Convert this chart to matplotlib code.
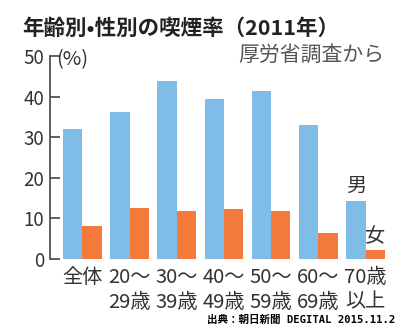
import matplotlib
matplotlib.use("Agg")
import matplotlib.pyplot as plt
import numpy as np

plt.rcParams['font.family'] = ['Noto Sans CJK JP', 'DejaVu Sans']

categories = ["全体", "20～\n29歳", "30～\n39歳", "40～\n49歳", "50～\n59歳", "60～\n69歳", "70歳\n以上"]
male = [32.1, 36.2, 43.8, 39.3, 41.3, 33.0, 14.3]
female = [8.2, 12.6, 11.9, 12.3, 11.7, 6.3, 2.1]
yticks = [0, 10, 20, 30, 40, 50]

blue = "#7fbde8"
orange = "#f47a3c"
txt = "#333333"

fig = plt.figure(figsize=(4, 3.35), dpi=100)
ax = fig.add_axes([50/400, 76/335, 342/400, 203/335])

x = np.arange(len(categories))
w = 0.41
ax.bar(x - w/2, male, width=w, color=blue, linewidth=0)
ax.bar(x + w/2, female, width=w, color=orange, linewidth=0)

ax.set_xlim(-0.684, 6.56)
ax.set_ylim(0, 50)
for s in ['top', 'right', 'bottom']:
    ax.spines[s].set_visible(False)
ax.spines['left'].set_color('#444444')
ax.spines['left'].set_linewidth(1.2)
ax.set_yticks(yticks)
ax.set_yticklabels([str(v) for v in yticks])
ax.tick_params(axis='y', direction='in', length=7, width=1.2, color='#444444',
               labelsize=13.5, labelcolor=txt, pad=4)
ax.set_xticks(x)
ax.set_xticklabels(categories, fontsize=14.5, color=txt, linespacing=1.2)
ax.tick_params(axis='x', length=0, pad=6)

fig.text(22/400, 1 - 28/335, "年齢別•性別の喫煙率（2011年）", fontsize=15.5,
         fontweight='bold', color='#222222', ha='left', va='center')
fig.text(384/400, 1 - 55/335, "厚労省調査から", fontsize=15, color='#555555',
         ha='right', va='center')
fig.text(56/400, 1 - 60/335, "(%)", fontsize=14.5, color=txt, ha='left', va='center')

ax.text(6 - w/2, male[6] + 3.6, "男", fontsize=14.5, color=txt, ha='center', va='center')
ax.text(6 + w/2, female[6] + 3.5, "女", fontsize=14.5, color=txt, ha='center', va='center')

fig.text(395/400, 1 - 320/335, "出典：朝日新聞 DEGITAL 2015.11.2", fontsize=7.6,
         fontweight='bold', color='black', ha='right', va='center',
         family=['DejaVu Sans Mono', 'Noto Sans CJK JP'])

fig.savefig("out.png", dpi=100)
